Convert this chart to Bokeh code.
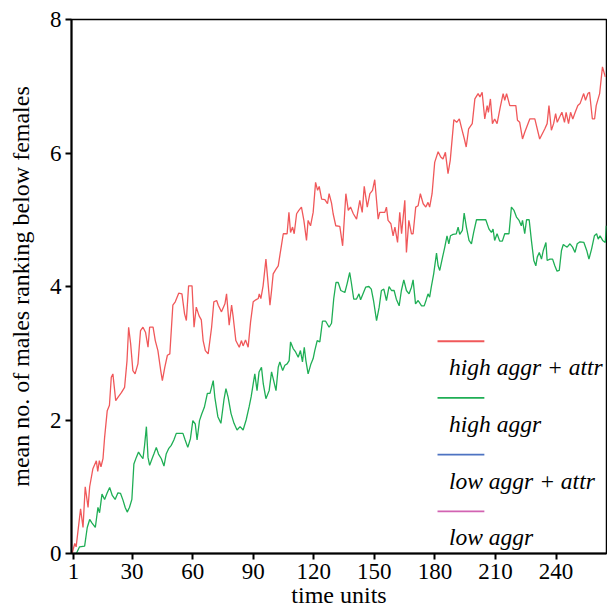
from bokeh.plotting import figure
from bokeh.models import FixedTicker, Range1d, Label
from bokeh.embed import file_html
from bokeh.resources import INLINE

# ---- data -------------------------------------------------------------
x_ticks = [1, 30, 60, 90, 120, 150, 180, 210, 240]
y_ticks = [0, 2, 4, 6, 8]

series_names = ["high aggr + attr", "high aggr", "low aggr + attr", "low aggr"]
series_colors = ["#f0585a", "#1fae55", "#4d73c2", "#d263b2"]

t_high_attr = [0.3, 1.6, 2.3, 4.5, 5.7, 6.8, 8.2, 9.0, 10.6, 12.3, 13.0, 13.8, 14.6, 15.6, 16.4, 17.7,
               18.8, 19.7, 20.5, 21.9, 23.0, 24.7, 26.3, 27.5, 28.3, 29.3, 30.4, 31.5, 32.9, 34.2, 35.4,
               36.7, 37.9, 38.7, 40.4, 41.5, 42.8, 44.2, 45.0, 46.2, 47.5, 48.7, 50.2, 51.4, 53.1, 54.7,
               56.0, 56.9, 58.0, 59.7, 60.7, 61.8, 63.2, 64.3, 65.2, 66.3, 67.7, 69.4, 70.5, 71.9, 72.7,
               74.3, 76.0, 76.8, 78.1, 79.3, 80.1, 81.4, 83.1, 84.2, 85.0, 86.2, 87.5, 88.7, 90.0, 91.3,
               92.5, 93.0, 93.8, 94.9, 96.3, 97.1, 98.3, 99.1, 99.9, 101.3, 102.4, 103.7, 104.9, 106.8,
               107.7, 108.5, 109.5, 110.3, 111.5, 112.6, 113.9, 115.1, 116.4, 117.2, 118.4, 119.7, 120.9,
               121.9, 122.7, 123.9, 125.5, 126.8, 127.6, 128.8, 129.6, 130.9, 132.9, 134.3, 135.9, 137.1,
               138.2, 139.6, 141.2, 142.8, 144.0, 145.0, 146.5, 147.8, 149.1, 150.2, 151.9, 152.7, 155.2,
               156.0, 156.8, 158.2, 159.3, 160.2, 161.5, 162.6, 163.5, 164.3, 165.1, 165.9, 167.1, 168.4,
               169.2, 170.5, 171.7, 172.8, 174.2, 175.5, 176.6, 177.4, 178.6, 179.9, 181.6, 182.9, 184.0,
               185.2, 186.5, 187.6, 189.4, 190.8, 192.1, 193.4, 194.6, 195.5, 196.7, 198.5, 199.8, 201.4,
               202.3, 203.4, 204.7, 205.9, 206.5, 207.5, 208.5, 209.6, 210.8, 212.4, 213.8, 214.6, 215.5,
               217.1, 220.1, 220.9, 222.0, 223.4, 224.5, 227.0, 229.5, 231.9, 234.4, 235.6, 236.5, 237.7,
               238.8, 239.8, 240.6, 241.8, 242.9, 244.2, 245.0, 246.2, 247.2, 248.3, 249.5, 250.8, 251.9,
               253.7, 254.6, 255.8, 256.6, 258.0, 259.1, 259.9, 261.6, 263.0, 264.4]
v_high_attr = [0.0, 0.15, 0.1, 0.67, 0.39, 1.0, 0.69, 1.0, 1.27, 1.39, 1.23, 1.39, 1.3, 1.42, 1.74, 2.14,
               2.22, 2.64, 2.69, 2.29, 2.34, 2.41, 2.49, 2.89, 3.39, 3.14, 2.74, 2.69, 2.84, 3.34, 3.39,
               3.31, 3.09, 3.39, 3.39, 3.19, 3.04, 2.74, 2.59, 2.79, 2.97, 2.99, 3.72, 3.77, 3.90, 3.89,
               3.59, 3.49, 4.01, 4.01, 3.39, 3.69, 3.56, 3.50, 3.19, 3.04, 2.99, 3.39, 3.77, 3.79, 3.72,
               3.62, 3.74, 3.89, 3.42, 3.72, 3.54, 3.19, 3.09, 3.19, 3.11, 3.20, 3.09, 3.47, 3.77, 3.80,
               3.82, 3.89, 3.82, 4.01, 4.41, 4.14, 3.72, 3.94, 4.19, 4.26, 4.31, 4.56, 4.79, 4.79,
               5.11, 4.81, 4.89, 4.79, 5.09, 5.14, 5.19, 4.99, 4.69, 4.99, 4.91, 5.11, 5.56,
               5.44, 5.50, 5.31, 5.30, 5.24, 5.39, 5.25, 5.09, 4.91, 4.90, 4.61, 5.39, 5.14,
               5.19, 5.09, 5.01, 5.29, 5.11, 5.50, 5.19, 5.39, 5.44, 5.60, 5.01, 5.11, 5.11,
               5.19, 4.99, 4.94, 4.76, 4.89, 4.66, 5.11, 4.79, 5.04, 5.29, 4.51, 4.99, 4.79,
               4.79, 5.19, 5.21, 5.39, 5.24, 5.19, 5.26, 5.19, 5.39, 5.86, 6.02, 5.94, 5.91,
               6.01, 5.69, 5.89, 6.50, 6.46, 6.51, 6.35, 6.21, 6.09, 6.36, 6.44, 6.81, 6.89,
               6.84, 6.91, 6.51, 6.71, 6.61, 6.81, 6.44, 6.51, 6.44, 6.69, 6.89, 6.79, 6.89,
               6.71, 6.71, 6.49, 6.46, 6.21, 6.31, 6.51, 6.51, 6.21, 6.36, 6.44, 6.71, 6.34,
               6.44, 6.59, 6.46, 6.54, 6.61, 6.46, 6.61, 6.44, 6.61, 6.51, 6.61, 6.71, 6.74,
               6.89, 6.79, 6.89, 6.91, 6.51, 6.51, 6.71, 6.89, 7.29, 7.14]

t_high = [2.4, 4.0, 6.5, 7.8, 9.0, 10.1, 11.8, 13.1, 13.9, 15.1, 16.4, 17.7, 18.9, 20.2, 21.6, 23.0, 24.3,
          25.5, 26.6, 27.6, 28.7, 29.9, 30.9, 32.1, 33.2, 34.2, 35.4, 36.2, 37.1, 37.9, 38.7, 39.9, 40.8,
          42.0, 43.1, 44.5, 45.8, 46.9, 48.1, 49.4, 50.7, 51.9, 55.2, 56.3, 57.6, 58.9, 60.1, 61.3, 62.2,
          63.4, 64.5, 65.8, 67.3, 68.6, 70.2, 71.0, 72.5, 74.0, 75.5, 76.5, 77.6, 79.0, 80.5, 82.0, 83.5,
          85.0, 86.5, 88.0, 89.0, 90.0, 90.8, 91.9, 92.9, 94.1, 95.0, 96.3, 97.9, 99.1, 99.9, 101.3, 102.4,
          103.2, 104.6, 105.7, 106.8, 107.8, 108.5, 109.8, 111.0, 112.3, 113.4, 114.4, 115.3, 116.1, 117.2,
          118.6, 119.7, 120.5, 121.7, 123.0, 124.3, 125.9, 127.6, 128.8, 129.9, 131.0, 132.1, 133.4, 135.4,
          136.5, 137.8, 138.6, 139.8, 141.1, 142.4, 143.2, 144.4, 145.7, 147.3, 148.5, 149.6, 151.1, 152.4,
          153.5, 154.7, 156.0, 157.3, 158.5, 159.8, 160.9, 162.3, 163.4, 164.6, 165.9, 167.2, 168.4, 169.2,
          170.4, 171.7, 173.4, 174.7, 175.8, 176.6, 177.4, 178.2, 179.4, 180.8, 181.6, 182.4, 183.8, 184.9,
          186.0, 186.9, 187.7, 189.0, 190.6, 191.5, 192.3, 193.6, 194.5, 195.6, 196.9, 198.1, 199.2, 200.6,
          205.2, 206.8, 208.0, 208.8, 209.6, 210.8, 212.1, 213.4, 214.6, 216.7, 217.9, 219.2, 220.4, 221.7,
          222.8, 223.4, 224.5, 225.4, 226.7, 227.8, 229.0, 230.0, 230.7, 231.7, 232.8, 233.7, 235.0, 235.6,
          237.0, 238.3, 239.4, 240.5, 241.6, 242.7, 243.6, 244.4, 245.5, 246.9, 248.2, 249.4, 250.5, 251.9,
          253.8, 255.2, 256.3, 257.6, 259.0, 260.1, 260.9, 261.8, 263.1, 264.4, 264.9]
v_high = [0.0, 0.1, 0.11, 0.39, 0.51, 0.46, 0.39, 0.69, 0.61, 0.89, 0.81, 0.91, 0.99, 0.87, 0.81, 0.91, 0.90,
          0.80, 0.69, 0.62, 0.69, 0.81, 1.34, 1.44, 1.52, 1.47, 1.42, 1.62, 1.90, 1.44, 1.32, 1.42, 1.49,
          1.59, 1.49, 1.42, 1.31, 1.49, 1.57, 1.62, 1.70, 1.80, 1.80, 1.70, 1.59, 1.72, 1.99, 1.94, 1.70,
          1.99, 2.09, 2.19, 2.40, 2.40, 2.59, 2.34, 2.05, 1.95, 2.30, 2.47, 2.34, 2.10, 1.95, 1.85, 1.90,
          1.85, 2.00, 2.20, 2.35, 2.54, 2.69, 2.44, 2.72, 2.79, 2.54, 2.32, 2.44, 2.72, 2.62, 2.44, 2.79,
          2.87, 2.74, 2.82, 2.84, 2.89, 3.17, 3.07, 3.02, 2.94, 3.04, 2.87, 3.09, 2.89, 2.69,
          2.84, 2.92, 3.04, 3.19, 3.17, 3.48, 3.48, 3.39, 3.45, 3.82, 4.06, 4.06, 3.94, 3.91,
          4.04, 4.21, 4.06, 3.81, 3.81, 3.89, 3.80, 3.89, 3.99, 4.00, 3.96, 3.79, 3.49, 3.69,
          3.94, 3.96, 3.79, 4.00, 3.94, 3.94, 3.81, 3.71, 3.94, 4.10, 3.94, 3.89, 3.99, 4.10,
          3.74, 3.79, 3.71, 3.71, 3.81, 3.89, 3.84, 3.99, 4.19, 4.50, 4.31, 4.24, 4.44, 4.59,
          4.76, 4.64, 4.76, 4.78, 4.79, 4.89, 4.78, 4.84, 5.10, 4.89, 4.69, 4.64, 4.81, 5.00,
          5.00, 4.86, 4.81, 4.86, 4.69, 4.79, 4.68, 4.68, 4.79, 4.79, 5.19, 5.14, 5.04, 4.99,
          4.91, 4.99, 4.79, 5.00, 5.00, 4.69, 4.39, 4.31, 4.44, 4.51, 4.41, 4.54, 4.66, 4.39,
          4.41, 4.41, 4.31, 4.23, 4.24, 4.54, 4.63, 4.61, 4.59, 4.64, 4.59, 4.51, 4.64, 4.67,
          4.66, 4.54, 4.41, 4.56, 4.76, 4.79, 4.71, 4.76, 4.69, 4.66, 4.91]

# ---- figure -----------------------------------------------------------
FONT = "'Liberation Serif', serif"

p = figure(width=607, height=614, output_backend="svg", toolbar_location=None,
           x_range=Range1d(0, 265), y_range=Range1d(0, 8),
           min_border_left=71, min_border_right=1, min_border_top=19, min_border_bottom=61)
p.background_fill_color = "white"
p.border_fill_color = "white"
p.grid.visible = False
p.outline_line_color = "black"
p.outline_line_width = 1.5

p.line(t_high_attr, v_high_attr, line_color=series_colors[0], line_width=1.3)
p.line(t_high, v_high, line_color=series_colors[1], line_width=1.3)

for ax in (p.xaxis[0], p.yaxis[0]):
    ax.axis_line_width = 2
    ax.major_tick_line_width = 2
    ax.major_tick_out = 6
    ax.major_tick_in = 0
    ax.minor_tick_line_color = None
    ax.major_label_text_font = FONT
    ax.major_label_text_font_size = "23px"
    ax.major_label_text_color = "black"
    ax.axis_label_text_font = FONT
    ax.axis_label_text_font_size = "24px"
    ax.axis_label_text_font_style = "normal"
    ax.axis_label_text_color = "black"

p.xaxis.ticker = FixedTicker(ticks=x_ticks)
p.yaxis.ticker = FixedTicker(ticks=y_ticks)
p.xaxis.axis_label = "time units"
p.yaxis.axis_label = "mean no. of males ranking below females"
p.xaxis.major_label_standoff = 4
p.xaxis.axis_label_standoff = 0
p.yaxis.major_label_standoff = 4
p.yaxis.axis_label_standoff = 13

# ---- legend (drawn manually: short line above italic label) -----------
leg_x0, leg_x1, leg_tx = 181.3, 204.5, 187.0
leg_line_top, leg_step, leg_text_gap = 3.18, 0.85, 0.39
for i, (name, col) in enumerate(zip(series_names, series_colors)):
    yl = leg_line_top - i * leg_step
    p.segment(x0=[leg_x0], y0=[yl], x1=[leg_x1], y1=[yl], line_color=col, line_width=1.8)
    p.add_layout(Label(x=leg_tx, y=yl - leg_text_gap, text=name, text_font=FONT,
                       text_font_style="italic", text_font_size="23.5px", text_color="black",
                       text_baseline="alphabetic", text_align="left"))

open("out.html", "w").write(file_html(p, INLINE))
